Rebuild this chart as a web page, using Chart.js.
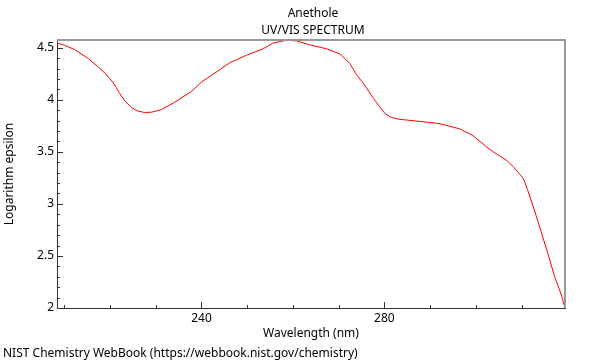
<!DOCTYPE html>
<html>
<head>
<meta charset="utf-8">
<script src="https://cdn.jsdelivr.net/npm/chart.js@4.4.1/dist/chart.umd.min.js"></script>
<style>
html,body{margin:0;padding:0;background:#fff;}
canvas{display:block;}
</style>
</head>
<body>
<canvas id="c" width="600" height="360"></canvas>
<script>
const chartTitle = "Anethole";
const chartSubtitle = "UV/VIS SPECTRUM";
const xAxisTitle = "Wavelength (nm)";
const yAxisTitle = "Logarithm epsilon";
const footerText = "NIST Chemistry WebBook (https://webbook.nist.gov/chemistry)";

const wavelengths = [208.4,210.0,212.2,215.1,217.3,219.0,220.6,222.0,223.2,224.7,226.0,227.5,229.0,231.2,234.1,237.8,240.0,242.5,246.2,249.8,253.5,255.7,258.6,260.8,263.7,267.3,270.3,272.5,273.9,275.4,277.6,280.1,281.5,283.4,287.8,292.2,296.5,299.4,300.9,302.4,303.9,306.9,308.7,310.4,311.3,312.8,314.3,315.8,317.2,318.7,319.5];
const logEpsilon = [4.545,4.525,4.483,4.40,4.32,4.25,4.17,4.07,3.99,3.925,3.893,3.878,3.88,3.905,3.975,4.08,4.17,4.244,4.356,4.427,4.49,4.545,4.572,4.565,4.527,4.49,4.44,4.345,4.24,4.158,4.013,3.87,3.83,3.812,3.792,3.77,3.72,3.655,3.60,3.545,3.497,3.413,3.332,3.244,3.137,2.941,2.729,2.516,2.306,2.126,2.0];

const xTickLabels = [240, 280];
const xMinorTicks = [210,220,230,240,250,260,270,280,290,300,310];
const yTickLabels = [2, 2.5, 3, 3.5, 4, 4.5];
const yMinorStep = 0.1;

const X_MIN = 208.4, X_MAX = 319.5, Y_MIN = 2, Y_MAX = 4.574;
const FAMILY = '"Noto Sans"';
const FONT = '12px ' + FAMILY;

const decor = {
  id: 'decor',
  afterDraw(chart) {
    const ctx = chart.ctx;
    const a = chart.chartArea;
    const xs = chart.scales.x, ys = chart.scales.y;
    ctx.save();
    ctx.strokeStyle = '#999';
    ctx.lineWidth = 2;
    ctx.beginPath();
    ctx.moveTo(a.left, a.top);
    ctx.lineTo(a.right, a.top);
    ctx.lineTo(a.right, a.bottom);
    ctx.stroke();
    ctx.strokeStyle = '#333';
    ctx.lineWidth = 1;
    ctx.beginPath();
    xMinorTicks.forEach(v => {
      const px = Math.round(xs.getPixelForValue(v)) + 0.5;
      const len = xTickLabels.includes(v) ? 6 : 3;
      ctx.moveTo(px, a.bottom);
      ctx.lineTo(px, a.bottom - len);
    });
    for (let k = 0; ; k++) {
      const v = Y_MIN + k * yMinorStep;
      if (v > Y_MAX + 1e-9) break;
      const py = Math.round(ys.getPixelForValue(v)) + 0.5;
      const major = Math.abs(v * 2 - Math.round(v * 2)) < 1e-6;
      const len = major ? 6 : 3;
      ctx.moveTo(a.left, py);
      ctx.lineTo(a.left + len, py);
    }
    ctx.stroke();
    ctx.fillStyle = '#000';
    ctx.font = FONT;
    ctx.textAlign = 'center';
    ctx.textBaseline = 'alphabetic';
    const cx = (a.left + a.right) / 2;
    ctx.fillText(chartTitle, cx + 2, 17);
    ctx.fillText(chartSubtitle, cx + 2, 34);
    ctx.fillText(xAxisTitle, cx, 337);
    ctx.textAlign = 'left';
    ctx.fillText(footerText, 3, 357);
    ctx.save();
    ctx.translate(10, (a.top + a.bottom) / 2);
    ctx.rotate(-Math.PI / 2);
    ctx.textAlign = 'center';
    ctx.textBaseline = 'middle';
    ctx.fillText(yAxisTitle, 0, 0);
    ctx.restore();
    ctx.restore();
  }
};

new Chart(document.getElementById('c'), {
  type: 'scatter',
  data: {
    datasets: [{
      data: wavelengths.map((w, i) => ({x: w, y: logEpsilon[i]})),
      showLine: true,
      borderColor: '#ff0000',
      borderWidth: 1,
      pointRadius: 0,
      tension: 0,
      fill: false
    }]
  },
  options: {
    responsive: false,
    animation: false,
    devicePixelRatio: 1,
    layout: {padding: {top: 40, right: 35, left: 0, bottom: 0}},
    plugins: {legend: {display: false}, tooltip: {enabled: false}, title: {display: false}},
    scales: {
      x: {
        type: 'linear', min: X_MIN, max: X_MAX,
        afterFit(s) { s.height = 52; },
        afterBuildTicks(s) { s.ticks = xTickLabels.map(v => ({value: v})); },
        grid: {display: true, drawOnChartArea: false, drawTicks: false},
        border: {display: true, color: '#333', width: 1},
        ticks: {font: {family: 'Noto Sans', size: 12}, color: '#000', padding: 3, maxRotation: 0,
                callback: v => String(v)}
      },
      y: {
        type: 'linear', min: Y_MIN, max: Y_MAX,
        afterFit(s) { s.width = 57; },
        afterBuildTicks(s) { s.ticks = yTickLabels.map(v => ({value: v})); },
        grid: {display: true, drawOnChartArea: false, drawTicks: false},
        border: {display: true, color: '#333', width: 1},
        ticks: {font: {family: 'Noto Sans', size: 12}, color: '#000', padding: 3,
                callback: v => String(v)}
      }
    }
  },
  plugins: [decor]
});
</script>
</body>
</html>
